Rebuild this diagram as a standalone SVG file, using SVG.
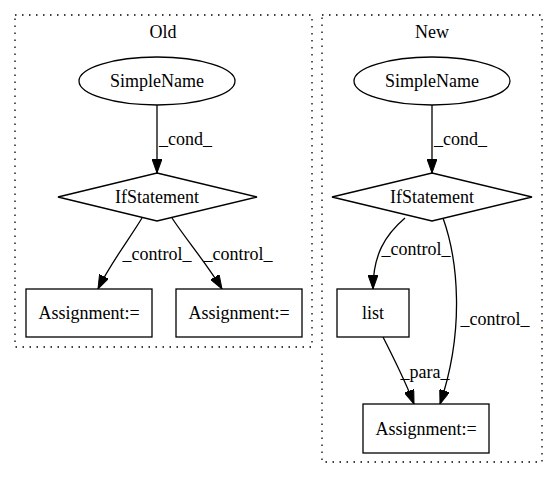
<svg xmlns="http://www.w3.org/2000/svg" width="557" height="480" viewBox="0 0 557 480">
<style>
text{font-family:"Liberation Serif","Times New Roman",serif;font-size:18px;fill:#000}
.c{text-anchor:middle}
.cl{fill:none;stroke:#000;stroke-width:1.3;stroke-dasharray:1.5,5.5}
.n{fill:#fff;stroke:#000;stroke-width:1.3}
.e{fill:none;stroke:#000;stroke-width:1.3}
</style>
<defs>
<marker id="ah" markerWidth="14" markerHeight="10" refX="14" refY="5" orient="auto" markerUnits="userSpaceOnUse">
<path d="M0,0L14,5L0,10z" fill="#000" stroke="#000"/>
</marker>
</defs>
<rect width="557" height="480" fill="#fff"/>
<g id="cluster_old">
<rect class="cl" x="15" y="15" width="297" height="332"/>
<text class="c" x="163" y="38">Old</text>
</g>
<g id="cluster_new">
<rect class="cl" x="322" y="15" width="220" height="447"/>
<text class="c" x="432" y="38">New</text>
</g>
<g id="connectors">
<path class="e" d="M157,105L157,173" marker-end="url(#ah)"/>
<text x="159" y="145">_cond_</text>
<path class="e" d="M142,218C130,238 110,264 98,289" marker-end="url(#ah)"/>
<text class="c" x="157" y="260">_control_</text>
<path class="e" d="M172,218C185,238 207,264 222,289" marker-end="url(#ah)"/>
<text class="c" x="238" y="260">_control_</text>
<path class="e" d="M432,105L432,173" marker-end="url(#ah)"/>
<text x="434" y="145">_cond_</text>
<path class="e" d="M405,218C385,235 373,255 373,289" marker-end="url(#ah)"/>
<text class="c" x="416" y="255">_control_</text>
<path class="e" d="M443,218C458,260 465,330 440,404" marker-end="url(#ah)"/>
<text class="c" x="495" y="325">_control_</text>
<path class="e" d="M383,337C392,355 405,380 414,404" marker-end="url(#ah)"/>
<text class="c" x="425" y="378">_para_</text>
</g>
<g id="old_simplename">
<ellipse class="n" cx="157" cy="81" rx="78" ry="24"/>
<text class="c" x="157" y="87">SimpleName</text>
</g>
<g id="old_if">
<polygon class="n" points="157,173 257,197 157,221 58,197"/>
<text class="c" x="157" y="203">IfStatement</text>
</g>
<g id="old_assign1">
<rect class="n" x="26" y="289" width="126" height="48"/>
<text class="c" x="89" y="319">Assignment:=</text>
</g>
<g id="old_assign2">
<rect class="n" x="176" y="289" width="126" height="48"/>
<text class="c" x="239" y="319">Assignment:=</text>
</g>
<g id="new_simplename">
<ellipse class="n" cx="432" cy="81" rx="78" ry="24"/>
<text class="c" x="432" y="87">SimpleName</text>
</g>
<g id="new_if">
<polygon class="n" points="432,173 532,197 432,221 332,197"/>
<text class="c" x="432" y="203">IfStatement</text>
</g>
<g id="new_list">
<rect class="n" x="337" y="289" width="72" height="48"/>
<text class="c" x="373" y="319">list</text>
</g>
<g id="new_assign">
<rect class="n" x="363" y="404" width="126" height="49"/>
<text class="c" x="426" y="435">Assignment:=</text>
</g>
</svg>
